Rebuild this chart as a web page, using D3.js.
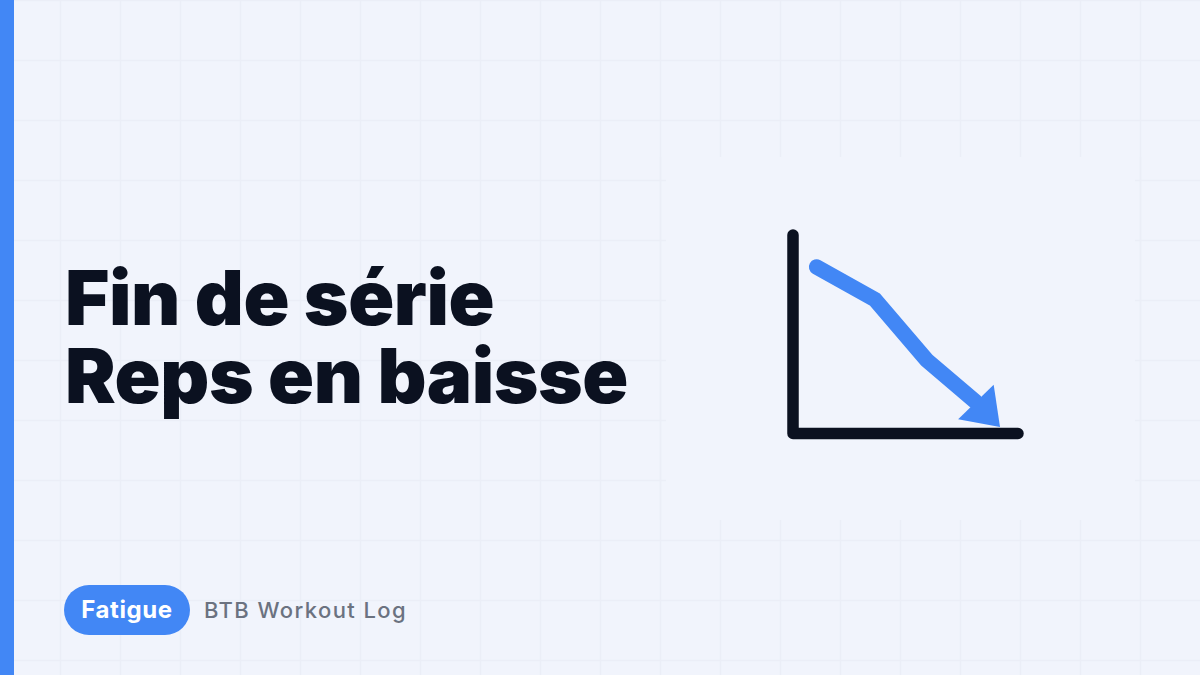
<!DOCTYPE html>
<html>
<head>
<meta charset="utf-8">
<script src="https://cdn.jsdelivr.net/npm/d3@7"></script>
<style>
  html, body { margin: 0; padding: 0; background: #f1f4fc; overflow: hidden; }
  svg { display: block; }
</style>
</head>
<body>
<script>
// values, axis units 0-100
const trendX = [10.5, 36.4, 59.4, 81.1]
const trendY = [83.9, 67.5, 37, 16.1]
const arrowTip = [92, 3.3]
const axisX = [0, 100]
const axisY = [100, 0]
const titleLines = ["Fin de série", "Reps en baisse"]
const tagLabel = "Fatigue"
const sourceLabel = "BTB Workout Log"

const w = 1200
const h = 675
const blue = "#4287f5"
const ink = "#0b1120"
const bg = "#f1f4fc"
const headBack = 34.7
const headHalf = 24.7

const svg = d3.select("body").append("svg").attr("width", w).attr("height", h)

svg.append("rect").attr("width", w).attr("height", h).attr("fill", bg)

// background grid
const grid = svg.append("g").attr("stroke", "#ebeef7").attr("stroke-width", 1.5)
grid
  .selectAll("line.v")
  .data(d3.range(60, w, 60))
  .enter()
  .append("line")
  .attr("class", "v")
  .attr("x1", (d) => d + 0.5)
  .attr("x2", (d) => d + 0.5)
  .attr("y1", 0)
  .attr("y2", h)
grid
  .selectAll("line.h")
  .data(d3.range(0, h, 60))
  .enter()
  .append("line")
  .attr("class", "h")
  .attr("x1", 14)
  .attr("x2", w)
  .attr("y1", (d) => d + 0.5)
  .attr("y2", (d) => d + 0.5)

// the icon sits on a plain panel that hides the grid
svg.append("rect").attr("x", 666).attr("y", 157).attr("width", 469).attr("height", 363).attr("fill", bg)
grid
  .selectAll("line.edge")
  .data([660, 1140])
  .enter()
  .append("line")
  .attr("class", "edge")
  .attr("x1", (d) => d + 0.5)
  .attr("x2", (d) => d + 0.5)
  .attr("y1", 157)
  .attr("y2", 520)

svg.append("rect").attr("width", 14).attr("height", h).attr("fill", blue)

const xScale = d3.scaleLinear().domain([0, 100]).range([793, 1018])
const yScale = d3.scaleLinear().domain([0, 100]).range([433.5, 235])

// axes
const axisLine = d3.line().x((d) => xScale(d[0])).y((d) => yScale(d[1]))
svg
  .append("path")
  .attr("d", axisLine([[axisX[0], axisY[0]], [axisX[0], axisY[1]], [axisX[1], axisY[1]]]))
  .attr("fill", "none")
  .attr("stroke", ink)
  .attr("stroke-width", 11.5)
  .attr("stroke-linecap", "round")
  .attr("stroke-linejoin", "round")

// falling trend
svg
  .append("path")
  .attr("d", d3.line()(trendX.map((d, i) => [xScale(d), yScale(trendY[i])])))
  .attr("fill", "none")
  .attr("stroke", blue)
  .attr("stroke-width", 15.5)
  .attr("stroke-linecap", "round")
  .attr("stroke-linejoin", "miter")

// arrow head, pointing from the end of the trend to the tip
const bx = xScale(trendX[trendX.length - 1])
const by = yScale(trendY[trendY.length - 1])
const tx = xScale(arrowTip[0])
const ty = yScale(arrowTip[1])
const len = Math.hypot(tx - bx, ty - by)
const ux = (tx - bx) / len
const uy = (ty - by) / len
svg
  .append("polygon")
  .attr("points", [
    [tx, ty],
    [tx - ux * headBack + uy * headHalf, ty - uy * headBack - ux * headHalf],
    [tx - ux * headBack - uy * headHalf, ty - uy * headBack + ux * headHalf],
  ].join(" "))
  .attr("fill", blue)

// title
svg
  .selectAll("text.title")
  .data(titleLines)
  .enter()
  .append("text")
  .attr("class", "title")
  .text((d) => d)
  .attr("x", 65)
  .attr("y", (d, i) => 325 + i * 78)
  .attr("font-family", "Inter, sans-serif")
  .attr("font-weight", 900)
  .attr("font-size", 76)
  .attr("letter-spacing", "-0.4px")
  .attr("fill", ink)

// footer tag and source
svg.append("rect").attr("x", 64).attr("y", 585).attr("width", 126).attr("height", 50).attr("rx", 25).attr("fill", blue)
svg
  .append("text")
  .text(tagLabel)
  .attr("x", 127)
  .attr("y", 618)
  .attr("text-anchor", "middle")
  .attr("font-family", "Inter, sans-serif")
  .attr("font-weight", 700)
  .attr("font-size", 24)
  .attr("letter-spacing", "0.6px")
  .attr("fill", "#ffffff")
svg
  .append("text")
  .text(sourceLabel)
  .attr("x", 204)
  .attr("y", 618)
  .attr("font-family", "Inter, sans-serif")
  .attr("font-weight", 500)
  .attr("font-size", 22)
  .attr("letter-spacing", "1.4px")
  .attr("fill", "#6b7280")
</script>
</body>
</html>
